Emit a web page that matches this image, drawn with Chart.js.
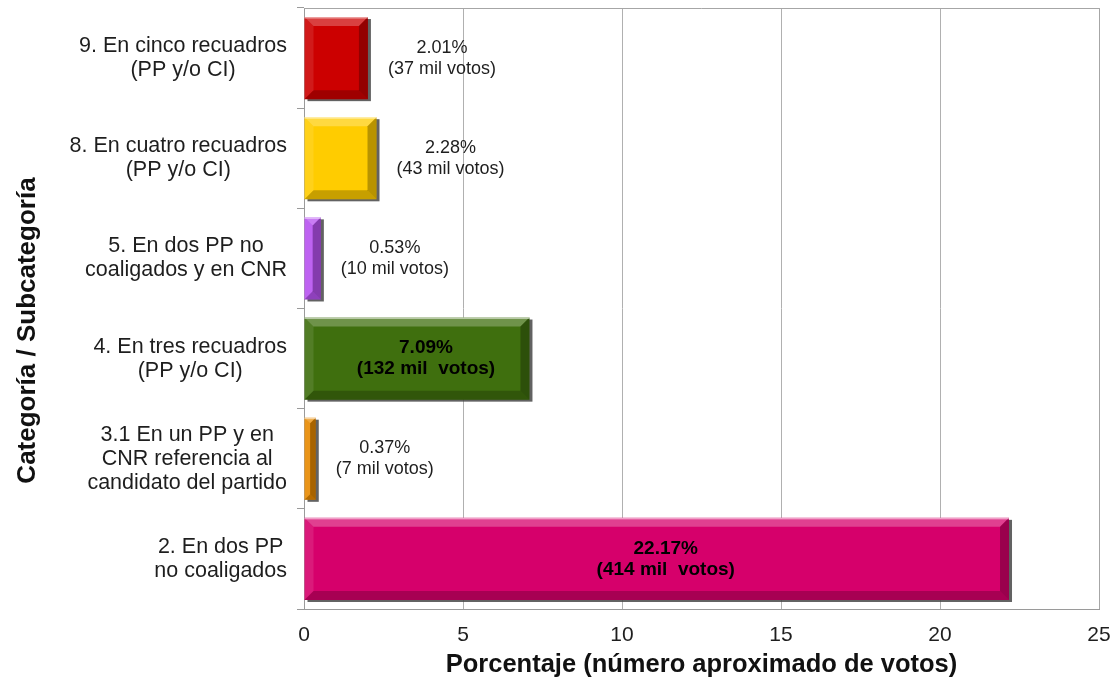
<!DOCTYPE html>
<html>
<head>
<meta charset="utf-8">
<script src="https://cdn.jsdelivr.net/npm/chart.js@4/dist/chart.umd.min.js"></script>
<style>
  html, body { margin: 0; padding: 0; background: #fff; }
  #wrap { width: 1114px; height: 683px; }
</style>
</head>
<body>
<div id="wrap"><canvas id="chart"></canvas></div>
<script>
const categories = [
  ["9. En cinco recuadros", "(PP y/o CI)"],
  ["8. En cuatro recuadros", "(PP y/o CI)"],
  ["5. En dos PP no", "coaligados y en CNR"],
  ["4. En tres recuadros", "(PP y/o CI)"],
  ["3.1 En un PP y en", "CNR referencia al", "candidato del partido"],
  ["2. En dos PP", "no coaligados"],
];
const percentages = [2.01, 2.28, 0.53, 7.09, 0.37, 22.17];
const votesThousands = [37, 43, 10, 132, 7, 414];
const barColors = ["#cc0000", "#ffcc00", "#b752f0", "#3f6f0e", "#e88a00", "#d6006b"];
const xTicks = [0, 5, 10, 15, 20, 25];
const yTitle = "Categoría / Subcategoría";

const FONT = "'Liberation Sans', Arial, sans-serif";
const TEXT = "#1e1e1e";

// shadow behind each bar, then a bevel on top of it
const bevelPlugin = {
  id: "bevel",
  beforeDatasetsDraw(chart) {
    const ctx = chart.ctx;
    const meta = chart.getDatasetMeta(0);
    ctx.save();
    meta.data.forEach((bar) => {
      const p = bar.getProps(["x", "y", "base", "height"], true);
      const left = Math.min(p.base, p.x);
      const right = Math.max(p.base, p.x);
      const top = p.y - p.height / 2;
      ctx.fillStyle = "rgba(70,70,70,0.85)";
      ctx.fillRect(left + 3, top + 2, right - left, p.height);
    });
    ctx.restore();
  },
  afterDatasetsDraw(chart) {
    const ctx = chart.ctx;
    const meta = chart.getDatasetMeta(0);
    ctx.save();
    meta.data.forEach((bar) => {
      const p = bar.getProps(["x", "y", "base", "height"], true);
      const l = Math.min(p.base, p.x);
      const r = Math.max(p.base, p.x);
      const t = p.y - p.height / 2;
      const b = p.y + p.height / 2;
      const s = Math.min(9, (r - l) / 2, p.height / 2);
      const poly = (pts, color) => {
        ctx.beginPath();
        ctx.moveTo(pts[0][0], pts[0][1]);
        for (let i = 1; i < pts.length; i++) ctx.lineTo(pts[i][0], pts[i][1]);
        ctx.closePath();
        ctx.fillStyle = color;
        ctx.fill();
      };
      poly([[l, t], [r, t], [r - s, t + s], [l + s, t + s]], "rgba(255,255,255,0.25)");
      poly([[l, t], [l + s, t + s], [l + s, b - s], [l, b]], "rgba(255,255,255,0.1)");
      poly([[r, t], [r, b], [r - s, b - s], [r - s, t + s]], "rgba(0,0,0,0.28)");
      poly([[l, b], [l + s, b - s], [r - s, b - s], [r, b]], "rgba(0,0,0,0.22)");
      ctx.fillStyle = "rgba(255,255,255,0.5)";
      ctx.fillRect(l, t, r - l, 1.5);
    });
    ctx.restore();
  },
};

// value labels: bold inside long bars, plain to the right of short ones
const valueLabels = {
  id: "valueLabels",
  afterDatasetsDraw(chart) {
    const ctx = chart.ctx;
    const meta = chart.getDatasetMeta(0);
    ctx.save();
    ctx.textBaseline = "middle";
    ctx.textAlign = "center";
    meta.data.forEach((bar, i) => {
      const p = bar.getProps(["x", "y", "base"], true);
      const inside = percentages[i] > 5;
      const lines = [
        percentages[i].toFixed(2) + "%",
        "(" + votesThousands[i] + (inside ? " mil  votos)" : " mil votos)"),
      ];
      let cx;
      if (inside) {
        ctx.font = "bold 19px " + FONT;
        cx = (p.base + p.x) / 2 + 9;
        ctx.fillStyle = "#000";
      } else {
        ctx.font = "18px " + FONT;
        const w = Math.max(...lines.map((s) => ctx.measureText(s).width));
        cx = p.x + 20 + w / 2;
        ctx.fillStyle = TEXT;
      }
      ctx.fillText(lines[0], cx, p.y - 10.5);
      ctx.fillText(lines[1], cx, p.y + 10.5);
    });
    ctx.restore();
  },
};

// category labels: each block right-aligned to the axis, lines centred inside it
const categoryLabels = {
  id: "categoryLabels",
  afterDraw(chart) {
    const ctx = chart.ctx;
    const scale = chart.scales.y;
    const right = chart.chartArea.left - 17;
    const lh = 24;
    ctx.save();
    ctx.font = "21.5px " + FONT;
    ctx.fillStyle = TEXT;
    ctx.textAlign = "center";
    ctx.textBaseline = "middle";
    categories.forEach((lines, i) => {
      const y = scale.getPixelForTick(i);
      const w = Math.max(...lines.map((s) => ctx.measureText(s).width));
      const cx = right - w / 2;
      const y0 = y - ((lines.length - 1) * lh) / 2;
      lines.forEach((s, k) => ctx.fillText(s, cx, y0 + k * lh));
    });
    // vertical axis title, sits a bit below the plot centre like the original
    const a = chart.chartArea;
    ctx.font = "bold 26px " + FONT;
    ctx.fillStyle = "#111";
    ctx.translate(28, (a.top + a.bottom) / 2 + 22);
    ctx.rotate(-Math.PI / 2);
    ctx.fillText(yTitle, 0, 0);
    ctx.restore();
  },
};

// gray frame on top and right of the plot area
const framePlugin = {
  id: "frame",
  beforeDatasetsDraw(chart) {
    const { ctx, chartArea: a } = chart;
    ctx.save();
    ctx.strokeStyle = "#a6a6a6";
    ctx.lineWidth = 1;
    ctx.beginPath();
    ctx.moveTo(a.left, a.top + 0.5);
    ctx.lineTo(a.right + 0.5, a.top + 0.5);
    ctx.lineTo(a.right + 0.5, a.bottom);
    ctx.stroke();
    ctx.restore();
  },
};

new Chart(document.getElementById("chart"), {
  type: "bar",
  data: {
    labels: categories,
    datasets: [
      {
        data: percentages,
        backgroundColor: barColors,
        borderWidth: 0,
        barPercentage: 0.82,
        categoryPercentage: 1,
      },
    ],
  },
  options: {
    indexAxis: "y",
    responsive: true,
    maintainAspectRatio: false,
    animation: false,
    layout: { padding: { top: 8, right: 15, left: 0, bottom: 0 } },
    plugins: {
      legend: { display: false },
      tooltip: { enabled: false },
    },
    scales: {
      x: {
        min: 0,
        max: 25,
        afterBuildTicks: (axis) => {
          axis.ticks = xTicks.map((v) => ({ value: v }));
        },
        afterFit: (axis) => {
          axis.height = 74;
          axis.paddingLeft = 0;
          axis.paddingRight = 0;
        },
        grid: { color: "#b0b0b0", drawTicks: false },
        border: { color: "#9a9a9a" },
        ticks: { font: { family: FONT, size: 21 }, color: TEXT, padding: 14, maxRotation: 0 },
        title: {
          display: true,
          text: "Porcentaje (número aproximado de votos)",
          font: { family: FONT, size: 25.5, weight: "bold" },
          color: "#111",
          padding: { top: 0, bottom: 3 },
        },
      },
      y: {
        afterFit: (axis) => {
          axis.width = 304;
        },
        grid: { offset: true, drawOnChartArea: false, tickLength: 7, color: "#9a9a9a" },
        border: { color: "#9a9a9a" },
        ticks: { display: false },
      },
    },
  },
  plugins: [framePlugin, bevelPlugin, valueLabels, categoryLabels],
});
</script>
</body>
</html>
